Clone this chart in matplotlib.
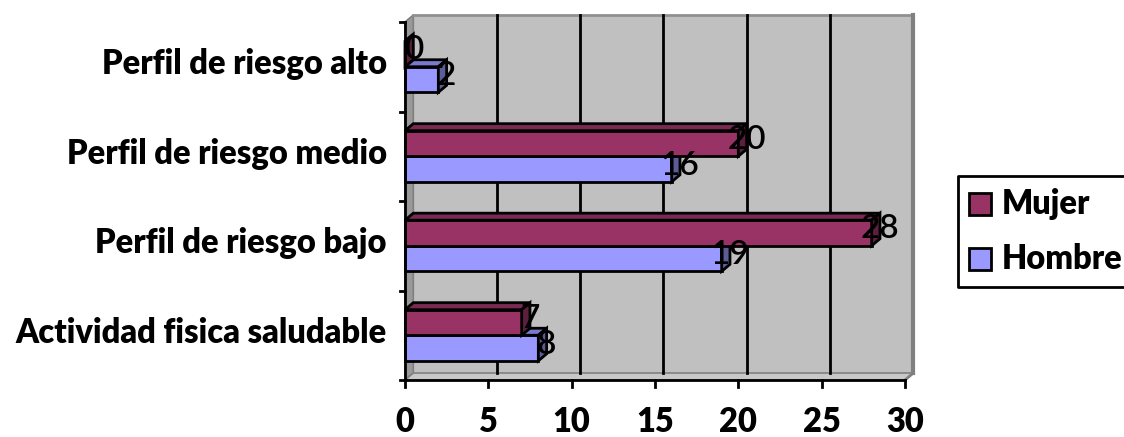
import matplotlib
matplotlib.use("Agg")
import matplotlib.pyplot as plt
from matplotlib.patches import Polygon, Rectangle
from matplotlib.lines import Line2D
import numpy as np

categories = ["Actividad fisica saludable", "Perfil de riesgo bajo",
              "Perfil de riesgo medio", "Perfil de riesgo alto"]
mujer = [7, 28, 20, 0]
hombre = [8, 19, 16, 2]
series_names = ["Mujer", "Hombre"]
x_ticks = [0, 5, 10, 15, 20, 25, 30]

W, H = 1124, 437
DPI = 100
FONT = "Lato"
BOLD = 800

c_mujer = "#993366"
c_hombre = "#9999FF"
c_mujer_top = "#7A2952"
c_mujer_side = "#5C1F3D"
c_hombre_top = "#7A7ACC"
c_hombre_side = "#5C5C99"
c_wall = "#C0C0C0"

fig = plt.figure(figsize=(W / DPI, H / DPI), dpi=DPI)
left, right, bottom, top = 405, 905, 380, 22
ax = fig.add_axes([left / W, 1 - bottom / H, (right - left) / W, (bottom - top) / H])
ax.set_xlim(0, 30)
ax.set_ylim(-0.5, 3.5)
ax.axis("off")

# depth offset of the 3D box (data units)
dx = 8.3 / ((right - left) / 30)
dy = 7.0 / ((bottom - top) / 4)
y0, y1 = -0.5, 3.5
xmax = 30

# back wall
ax.add_patch(Polygon([(dx, y0 + dy), (xmax + dx, y0 + dy), (xmax + dx, y1 + dy), (dx, y1 + dy)],
                     closed=True, facecolor=c_wall, edgecolor="none", clip_on=False, zorder=0))
# side wall
ax.add_patch(Polygon([(0, y0), (dx, y0 + dy), (dx, y1 + dy), (0, y1)],
                     closed=True, facecolor="#999999", edgecolor="#808080", lw=1.2,
                     clip_on=False, zorder=0.5))
# floor
ax.add_patch(Polygon([(0, y0), (xmax, y0), (xmax + dx, y0 + dy), (dx, y0 + dy)],
                     closed=True, facecolor="#C8C8C8", edgecolor="#808080", lw=1.2,
                     clip_on=False, zorder=0.5))
# wall borders
ax.plot([dx, xmax + dx], [y1 + dy, y1 + dy], color="#909090", lw=2, clip_on=False, zorder=0.6)
ax.plot([xmax + dx, xmax + dx], [y0 + dy, y1 + dy], color="#808080", lw=3, clip_on=False, zorder=0.6)
ax.plot([xmax, xmax + dx], [y0, y0 + dy], color="#808080", lw=2, clip_on=False, zorder=0.6)

# gridlines on the back wall
for t in x_ticks[1:-1]:
    ax.plot([t + dx, t + dx], [y0 + dy, y1 + dy], color="black", lw=2, clip_on=False, zorder=0.7)

# axes lines and ticks
ax.plot([0, 0], [y0, y1], color="black", lw=2, clip_on=False, zorder=5)
ax.plot([0, xmax], [y0, y0], color="black", lw=2, clip_on=False, zorder=5)
for b in np.arange(-0.5, 3.6, 1.0):
    ax.plot([-0.3, 0], [b, b], color="black", lw=2, clip_on=False, zorder=5)
for t in x_ticks:
    ax.plot([t, t], [y0, y0 - 0.08], color="black", lw=2, clip_on=False, zorder=5)
    ax.text(t, y0 - 0.29, str(t), ha="center", va="top", fontsize=23.5,
            fontweight=BOLD, family=FONT)

for i, cat in enumerate(categories):
    ax.text(-1.1, i + 0.03, cat, ha="right", va="center", fontsize=23.5,
            fontweight=BOLD, family=FONT)

# bars with 3D faces
bh = 1 / 3.5
z = 1
for i in range(len(categories)):
    for vals, off, cf, ct, cs in [(hombre, -bh, c_hombre, c_hombre_top, c_hombre_side),
                                  (mujer, 0, c_mujer, c_mujer_top, c_mujer_side)]:
        v = vals[i]
        yb = i + off
        ax.barh(yb, v, height=bh, align="edge", color=cf, edgecolor="black",
                lw=2, zorder=z, clip_on=False)
        ax.add_patch(Polygon([(0, yb + bh), (v, yb + bh), (v + dx, yb + bh + dy), (dx, yb + bh + dy)],
                             closed=True, facecolor=ct, edgecolor="black", lw=2,
                             zorder=z, clip_on=False))
        ax.add_patch(Polygon([(v, yb), (v + dx, yb + dy), (v + dx, yb + bh + dy), (v, yb + bh)],
                             closed=True, facecolor=cs, edgecolor="black", lw=2,
                             zorder=z, clip_on=False))
        z += 0.01

# value labels
for i in range(len(categories)):
    for vals, off in [(hombre, -bh), (mujer, 0)]:
        v = vals[i]
        ax.text(v + dx, i + off + bh / 2 + dy / 2, str(v), ha="center", va="center",
                fontsize=24, fontweight=600, family=FONT, zorder=10, clip_on=False)

# legend (box runs off the right edge of the figure)
def fx(px):
    return px / W

def fy(py):
    return 1 - py / H

lx0, lx1, ly0, ly1 = 958, 1124, 176, 287
fig.lines.append(Line2D([fx(lx1 + 5), fx(lx0), fx(lx0), fx(lx1 + 5)],
                        [fy(ly0), fy(ly0), fy(ly1), fy(ly1)],
                        transform=fig.transFigure, color="black", lw=2))
for name, col, yc in [(series_names[0], c_mujer, 204), (series_names[1], c_hombre, 259)]:
    fig.patches.append(Rectangle((fx(969), fy(yc + 11)), fx(22), 22 / H,
                                 transform=fig.transFigure, facecolor=col,
                                 edgecolor="black", lw=2))
    fig.text(fx(1002), fy(yc), name, ha="left", va="center", fontsize=23.5,
             fontweight=BOLD, family=FONT)

fig.savefig("out.png", dpi=DPI)
